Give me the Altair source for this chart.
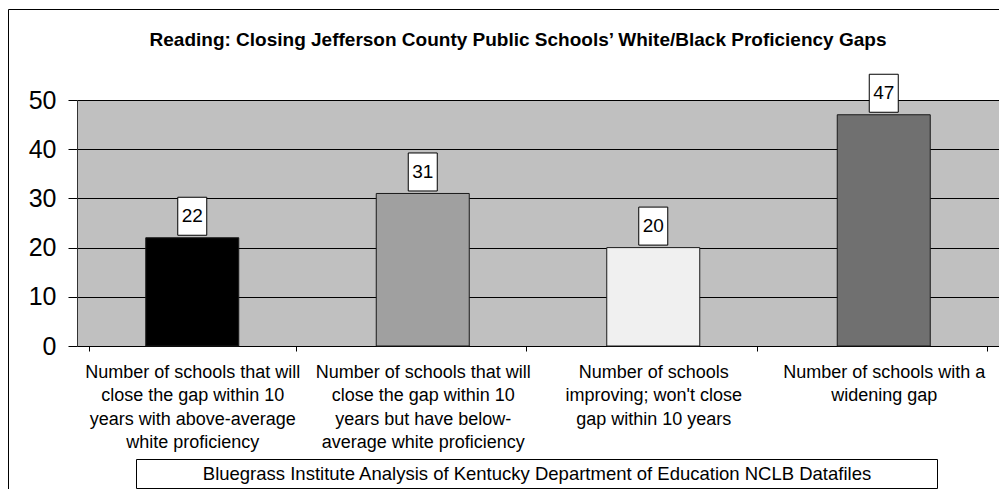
import altair as alt
import pandas as pd

# ---- data ----
categories = [
    "Number of schools that will\nclose the gap within 10\nyears with above-average\nwhite proficiency",
    "Number of schools that will\nclose the gap within 10\nyears but have below-\naverage white proficiency",
    "Number of schools\nimproving; won't close\ngap within 10 years",
    "Number of schools with a\nwidening gap",
]
values = [22, 31, 20, 47]
bar_colors = ["#000000", "#a0a0a0", "#f0f0f0", "#707070"]
y_ticks = [0, 10, 20, 30, 40, 50]

title_text = "Reading: Closing Jefferson County Public Schools\u2019 White/Black Proficiency Gaps"
source_text = "Bluegrass Institute Analysis of Kentucky Department of Education NCLB Datafiles"

FONT = "Liberation Sans"

df = pd.DataFrame({"category": categories, "value": values})

x_enc = alt.X(
    "category:N",
    sort=categories,
    title=None,
    axis=alt.Axis(
        labelExpr="split(datum.label, '\\n')",
        labelFont=FONT,
        labelFontSize=18,
        labelLineHeight=23.5,
        labelColor="#000000",
        labelLimit=0,
        labelPadding=12,
        labelAngle=0,
        tickBand="extent",
        tickSize=5,
        tickColor="#000000",
        domainColor="#000000",
        domainWidth=1,
        grid=False,
    ),
)
y_enc = alt.Y(
    "value:Q",
    scale=alt.Scale(domain=[0, 50], nice=False),
    title=None,
    axis=alt.Axis(
        values=y_ticks,
        labelFont=FONT,
        labelFontSize=25,
        labelColor="#000000",
        labelPadding=12,
        tickSize=9,
        tickColor="#000000",
        domainColor="#333333",
        grid=True,
        gridColor="#000000",
        gridWidth=1,
        gridOpacity=1,
    ),
)

base = alt.Chart(df)

bars = base.mark_bar(width=93, stroke="#1a1a1a", strokeWidth=1).encode(
    x=x_enc,
    y=y_enc,
    color=alt.Color(
        "category:N",
        scale=alt.Scale(domain=categories, range=bar_colors),
        legend=None,
    ),
)

boxes = base.mark_bar(
    width=29, fill="#ffffff", stroke="#000000", strokeWidth=1,
    yOffset=-2.5, y2Offset=-40.5,
).encode(
    x=alt.X("category:N", sort=categories),
    y=alt.Y("value:Q"),
    y2=alt.Y2("value"),
)

labels = base.mark_text(
    font=FONT, fontSize=19, color="#000000", dy=-21.5, baseline="middle", align="center"
).encode(
    x=alt.X("category:N", sort=categories),
    y=alt.Y("value:Q"),
    text=alt.Text("value:Q"),
)

# decorations: outer frame, title, source box
frame = alt.Chart(pd.DataFrame({"k": [0]})).mark_rect(
    fill=None, stroke="#000000", strokeWidth=1
).encode(
    x=alt.value(-68.5), x2=alt.value(1200), y=alt.value(-90.5), y2=alt.value(1200)
)

title = alt.Chart(pd.DataFrame({"t": [title_text]})).mark_text(
    font=FONT, fontSize=19, fontWeight="bold", align="center", baseline="middle", color="#000000"
).encode(x=alt.value(441), y=alt.value(-60), text="t:N")

src_box = alt.Chart(pd.DataFrame({"k": [0]})).mark_rect(
    fill="#ffffff", stroke="#000000", strokeWidth=1
).encode(
    x=alt.value(59.5), x2=alt.value(860.5), y=alt.value(359.5), y2=alt.value(388.5)
)

src_text = alt.Chart(pd.DataFrame({"t": [source_text]})).mark_text(
    font=FONT, fontSize=18.5, align="center", baseline="middle", color="#000000"
).encode(x=alt.value(460), y=alt.value(374), text="t:N")

chart = (
    alt.layer(bars, boxes, labels, frame, title, src_box, src_text)
    .properties(
        width=922,
        height=246,
        autosize=alt.AutoSizeParams(type="none"),
        padding={"left": 69, "top": 92, "right": 0, "bottom": 143},
        background="#ffffff",
    )
    .configure_view(fill="#c0c0c0", stroke=None)
)

chart.save("out.html", embed_options={"renderer": "svg", "actions": False})
